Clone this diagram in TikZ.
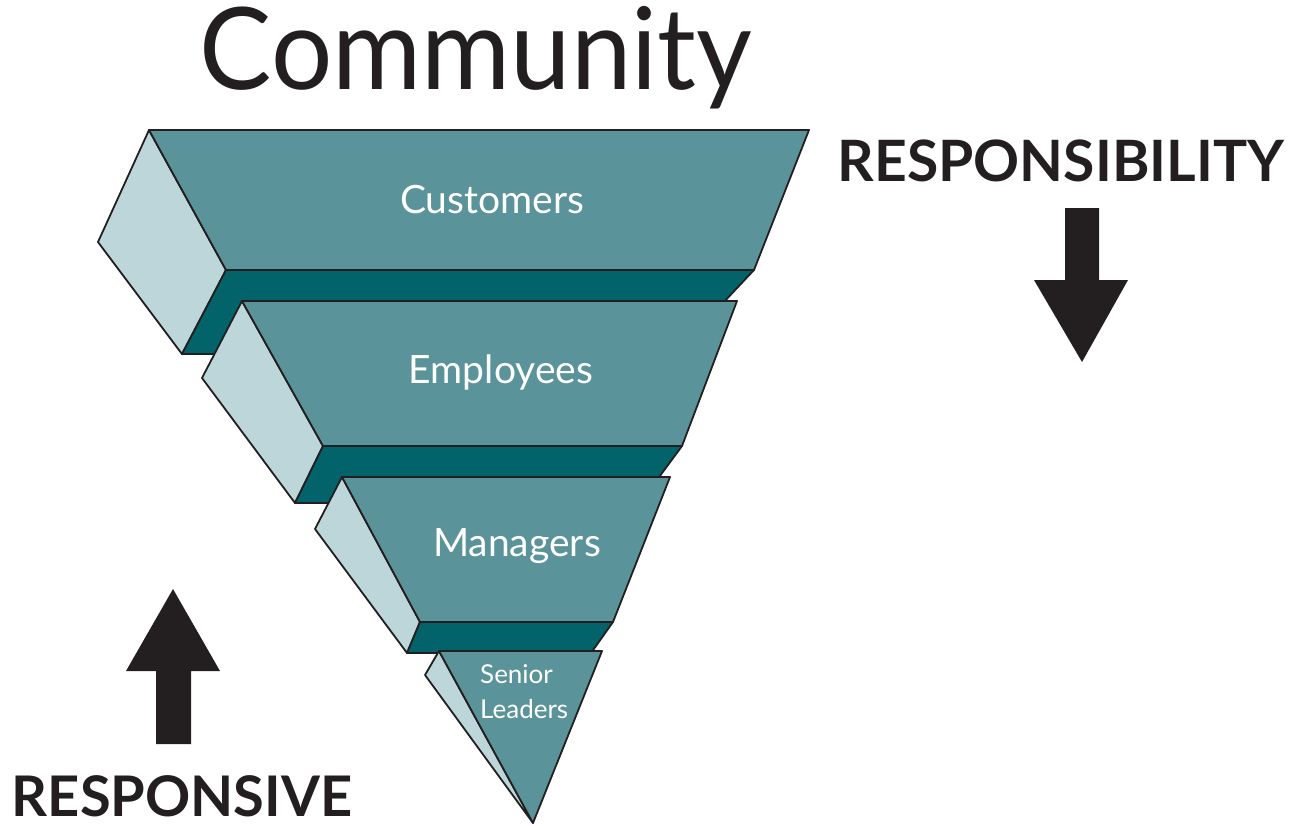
\documentclass[tikz,border=0pt]{standalone}
\usepackage{fontspec}
\setmainfont{Lato}
\newfontfamily\titlefont[FakeStretch=0.95]{Lato}
\definecolor{face}{HTML}{5A949A}
\definecolor{band}{HTML}{03636A}
\definecolor{side}{HTML}{BCD6DA}
\definecolor{ink}{HTML}{231F20}
\tikzset{
  facebox/.style={fill=face,draw=ink,line width=1.8pt,line join=round},
  bandbox/.style={fill=band,draw=ink,line width=1.8pt,line join=round},
  sidebox/.style={fill=side,draw=ink,line width=1.8pt,line join=round},
  bigarrow/.style={fill=ink,draw=none},
  inlabel/.style={text=white,anchor=base,inner sep=0pt},
  blacklabel/.style={text=ink,anchor=base,inner sep=0pt}
}
\begin{document}
\begin{tikzpicture}[x=1pt,y=-1pt]
\useasboundingbox (0,0) rectangle (1293,825);
% layer 1
\coordinate (A1) at (149,130); \coordinate (B1) at (809,130);
\coordinate (C1) at (754,270); \coordinate (D1) at (226,270);
\coordinate (L1) at (98,242);  \coordinate (S1) at (182,354);
\coordinate (E1) at (675,354);
% layer 2
\coordinate (A2) at (242,301); \coordinate (B2) at (737,301);
\coordinate (C2) at (682,446); \coordinate (D2) at (323,446);
\coordinate (L2) at (202,378); \coordinate (S2) at (295,503);
\coordinate (E2) at (640,503);
% layer 3
\coordinate (A3) at (342,477); \coordinate (B3) at (670,477);
\coordinate (C3) at (613,622); \coordinate (D3) at (420,622);
\coordinate (L3) at (315,529); \coordinate (S3) at (407,653);
\coordinate (E3) at (591,653);
% layer 4
\coordinate (A4) at (439,651); \coordinate (B4) at (602,651);
\coordinate (T4) at (533,823); \coordinate (L4) at (425,675);

\draw[sidebox] (A1) -- (L1) -- (S1) -- (D1) -- cycle;
\draw[bandbox] (D1) -- (C1) -- (E1) -- (S1) -- cycle;
\draw[facebox] (A1) -- (B1) -- (C1) -- (D1) -- cycle;

\draw[sidebox] (A2) -- (L2) -- (S2) -- (D2) -- cycle;
\draw[bandbox] (D2) -- (C2) -- (E2) -- (S2) -- cycle;
\draw[facebox] (A2) -- (B2) -- (C2) -- (D2) -- cycle;

\draw[sidebox] (A3) -- (L3) -- (S3) -- (D3) -- cycle;
\draw[bandbox] (D3) -- (C3) -- (E3) -- (S3) -- cycle;
\draw[facebox] (A3) -- (B3) -- (C3) -- (D3) -- cycle;

\draw[sidebox] (A4) -- (L4) -- (T4) -- cycle;
\draw[facebox] (A4) -- (B4) -- (T4) -- cycle;

% labels
\node[blacklabel] (title) at (476,89) {\titlefont\fontsize{114}{114}\selectfont Community};
\node[inlabel] (cust) at (492,213) {\fontsize{39}{39}\selectfont Customers};
\node[inlabel] (emp) at (501,383) {\fontsize{39}{39}\selectfont Employees};
\node[inlabel] (man) at (517,556) {\fontsize{39}{39}\selectfont Managers};
\node[inlabel,anchor=base west] (sen) at (480,683) {\fontsize{26}{26}\selectfont Senior};
\node[inlabel,anchor=base west] (lead) at (480,718) {\fontsize{26}{26}\selectfont Leaders};
\node[blacklabel] (resp) at (1061,181) {\fontsize{57}{57}\selectfont\bfseries RESPONSIBILITY};
\node[blacklabel] (respv) at (182,816) {\fontsize{56}{56}\selectfont\bfseries RESPONSIVE};

% arrows
\coordinate (dtip) at (1082,362);
\fill[bigarrow] (1065,208) -- (1099,208) -- (1099,280) -- (1128,280) -- (dtip) -- (1034,280) -- (1065,280) -- cycle;
\coordinate (utip) at (173,589);
\fill[bigarrow] (156,744) -- (191,744) -- (191,671) -- (220,671) -- (utip) -- (126,671) -- (156,671) -- cycle;
\end{tikzpicture}
\end{document}
